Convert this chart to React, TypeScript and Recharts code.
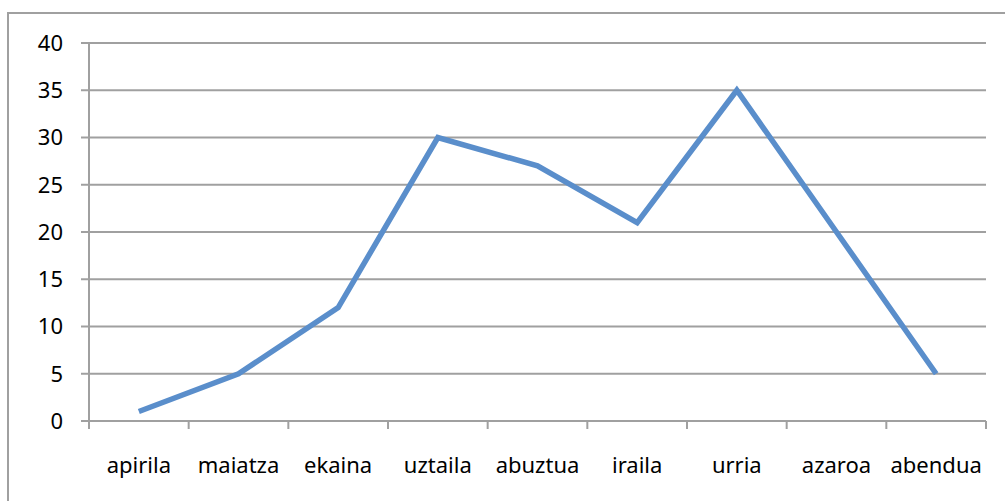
import { CartesianGrid, Line, LineChart, XAxis, YAxis } from "recharts";

// month names (Basque) and values
const months = [
  "apirila",
  "maiatza",
  "ekaina",
  "uztaila",
  "abuztua",
  "iraila",
  "urria",
  "azaroa",
  "abendua",
];
const values = [1, 5, 12, 30, 27, 21, 35, 20, 5];
const yTicks = [0, 5, 10, 15, 20, 25, 30, 35, 40];
// category boundaries, where the Excel-style tick marks sit
const boundaryTicks = [0, 1, 2, 3, 4, 5, 6, 7, 8, 9];

const data = months.map((month, i) => ({ month, value: values[i] }));

const gray = "#a0a0a0";
const font = { fontFamily: "'Noto Sans', sans-serif", fontSize: 22, fill: "#000" };

const App = () => {
  return (
    <div
      style={{
        position: "absolute",
        left: 0,
        top: 0,
        width: 1005,
        height: 501,
        overflow: "hidden",
        background: "#fff",
      }}
    >
      {/* chart frame, runs off the right and bottom edge */}
      <div
        style={{
          position: "absolute",
          left: 7,
          top: 12,
          width: 1100,
          height: 600,
          border: `2px solid ${gray}`,
        }}
      />
      <div style={{ position: "absolute", left: 0, top: 0 }}>
        <LineChart
          width={1005}
          height={501}
          data={data}
          margin={{ top: 43, right: 19, bottom: 0, left: 29 }}
        >
          <CartesianGrid
            vertical={false}
            stroke={gray}
            strokeWidth={2}
            xAxisId="b"
          />
          {/* boundary tick marks only, no labels */}
          <XAxis
            xAxisId="a"
            type="number"
            dataKey="value"
            scale="linear"
            domain={[0, boundaryTicks.length - 1]}
            ticks={boundaryTicks}
            interval={0}
            tick={() => <g />}
            tickSize={8}
            height={1}
            stroke={gray}
            strokeWidth={2}
            allowDataOverflow
          />
          <XAxis
            xAxisId="b"
            dataKey="month"
            scale="band"
            axisLine={false}
            tickLine={false}
            tickSize={0}
            tickMargin={35}
            height={79}
            interval={0}
            tick={font}
          />
          <YAxis
            domain={[0, 40]}
            ticks={yTicks}
            width={60}
            tickSize={8}
            tickMargin={18}
            stroke={gray}
            strokeWidth={2}
            tick={font}
          />
          <Line
            xAxisId="b"
            dataKey="value"
            stroke="#5a8ecb"
            strokeWidth={5.5}
            dot={false}
            isAnimationActive={false}
          />
        </LineChart>
      </div>
    </div>
  );
};

export default App;
